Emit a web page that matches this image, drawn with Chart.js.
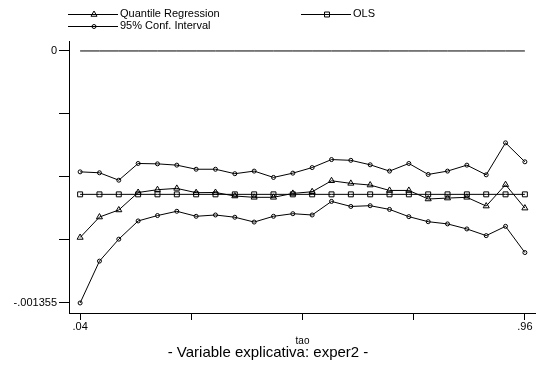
<!DOCTYPE html>
<html>
<head>
<meta charset="utf-8">
<script src="https://cdn.jsdelivr.net/npm/chart.js@4/dist/chart.umd.min.js"></script>
<style>
    body { margin: 0; background: #fff; }
    #caja { width: 536px; height: 367px; }
</style>
</head>
<body>
<div id="caja"><canvas id="grafica"></canvas></div>
<script>
/* datos: cuantiles (tao) y coeficientes de exper2 */
let taos = [0.04, 0.08, 0.12, 0.16, 0.20, 0.24, 0.28, 0.32, 0.36, 0.40, 0.44, 0.48,
            0.52, 0.56, 0.60, 0.64, 0.68, 0.72, 0.76, 0.80, 0.84, 0.88, 0.92, 0.96];

let regCuantil = [-0.001003, -0.000893, -0.000855, -0.000761, -0.000746, -0.000739,
                  -0.000762, -0.000761, -0.000780, -0.000787, -0.000787, -0.000766,
                  -0.000757, -0.000698, -0.000712, -0.000721, -0.000750, -0.000750,
                  -0.000796, -0.000791, -0.000787, -0.000834, -0.000719, -0.000845];

let icSuperior = [-0.000650, -0.000655, -0.000695, -0.000605, -0.000607, -0.000614,
                  -0.000636, -0.000636, -0.000660, -0.000646, -0.000680, -0.000657,
                  -0.000627, -0.000584, -0.000588, -0.000612, -0.000646, -0.000605,
                  -0.000664, -0.000646, -0.000614, -0.000666, -0.000494, -0.000596];

let icInferior = [-0.001355, -0.001130, -0.001012, -0.000914, -0.000885, -0.000862,
                  -0.000889, -0.000882, -0.000894, -0.000920, -0.000889, -0.000875,
                  -0.000882, -0.000809, -0.000836, -0.000832, -0.000852, -0.000891,
                  -0.000918, -0.000930, -0.000957, -0.000993, -0.000943, -0.001084];

let mco = [-0.000771, -0.000771, -0.000771, -0.000771, -0.000771, -0.000771,
           -0.000771, -0.000771, -0.000771, -0.000771, -0.000771, -0.000771,
           -0.000771, -0.000771, -0.000771, -0.000771, -0.000771, -0.000771,
           -0.000771, -0.000771, -0.000771, -0.000771, -0.000771, -0.000771];

let lineaCero = [0, 0, 0, 0, 0, 0, 0, 0, 0, 0, 0, 0,
                 0, 0, 0, 0, 0, 0, 0, 0, 0, 0, 0, 0];

let ticksX = [0.04, 0.27, 0.50, 0.73, 0.96];
let etiquetasX = ['.04', '', '', '', '.96'];
let ticksY = [0, -0.00033875, -0.0006775, -0.00101625, -0.001355];
let etiquetasY = ['0', '', '', '', '-.001355'];

function puntos(valores) {
    return taos.map((t, i) => ({ x: t, y: valores[i] }));
}

function serie(nombre, valores, estilo, radio) {
    return {
        label: nombre,
        data: puntos(valores),
        borderColor: '#000',
        backgroundColor: 'rgba(0,0,0,0)',
        borderWidth: 1,
        pointStyle: estilo,
        pointRadius: radio,
        pointBorderWidth: 1,
        pointBorderColor: '#000',
        pointBackgroundColor: 'rgba(0,0,0,0)',
        tension: 0,
        fill: false
    };
}

/* leyenda dibujada a mano, como en el original */
let leyendaStata = {
    id: 'leyendaStata',
    afterDraw(chart) {
        let ctx = chart.ctx;
        let items = [
            { texto: 'Quantile Regression', estilo: 'triangle', radio: 3.5, x: 68, y: 14 },
            { texto: 'OLS', estilo: 'rect', radio: 3.5, x: 301, y: 14 },
            { texto: '95% Conf. Interval', estilo: 'circle', radio: 2, x: 68, y: 26 }
        ];
        ctx.save();
        ctx.strokeStyle = '#000';
        ctx.fillStyle = '#000';
        ctx.lineWidth = 1;
        ctx.font = '11px "Liberation Sans", Arial, sans-serif';
        ctx.textBaseline = 'middle';
        items.forEach(it => {
            ctx.beginPath();
            ctx.moveTo(it.x, it.y + 0.5);
            ctx.lineTo(it.x + 50, it.y + 0.5);
            ctx.stroke();
            ctx.fillStyle = 'rgba(0,0,0,0)';
            Chart.helpers.drawPoint(ctx, { pointStyle: it.estilo, radius: it.radio, borderWidth: 1 }, it.x + 26, it.y + 0.5);
            ctx.fillStyle = '#000';
            ctx.fillText(it.texto, it.x + 52, it.y);
        });
        ctx.restore();
    }
};

let ctxGrafica = document.getElementById('grafica');

let miGrafica = new Chart(ctxGrafica, {
    type: 'line',
    data: {
        datasets: [
            serie('cero', lineaCero, 'circle', 0),
            serie('95% Conf. Interval', icSuperior, 'circle', 2),
            serie('95% Conf. Interval (inf)', icInferior, 'circle', 2),
            serie('Quantile Regression', regCuantil, 'triangle', 3.5),
            serie('OLS', mco, 'rect', 3.5)
        ]
    },
    options: {
        responsive: true,
        maintainAspectRatio: false,
        animation: false,
        layout: {
            autoPadding: false,
            padding: { top: 41, right: 0, left: 0, bottom: 0 }
        },
        scales: {
            x: {
                type: 'linear',
                min: 0.017,
                max: 0.983,
                afterBuildTicks: s => { s.ticks = ticksX.map(v => ({ value: v })); },
                afterFit: s => { s.height = 31; s.paddingLeft = 0; s.paddingRight = 0; },
                ticks: {
                    color: '#000',
                    padding: 0,
                    maxRotation: 0,
                    font: { family: '"Liberation Sans", Arial', size: 11 },
                    callback: (v, i) => etiquetasX[i]
                },
                grid: { display: true, drawOnChartArea: false, tickLength: 7, color: '#000' },
                border: { display: true, color: '#000', width: 1 },
                title: {
                    display: true,
                    text: 'tao',
                    color: '#000',
                    padding: { top: 0, bottom: -3 },
                    font: { family: '"Liberation Sans", Arial', size: 10 }
                }
            },
            y: {
                min: -0.001409,
                max: 0.0000536,
                afterBuildTicks: s => { s.ticks = ticksY.map(v => ({ value: v })); },
                afterFit: s => { s.width = 69; },
                ticks: {
                    color: '#000',
                    padding: 2,
                    font: { family: '"Liberation Sans", Arial', size: 11 },
                    callback: (v, i) => etiquetasY[i]
                },
                grid: { display: true, drawOnChartArea: false, tickLength: 10, color: '#000' },
                border: { display: true, color: '#000', width: 1 }
            }
        },
        plugins: {
            legend: false,
            tooltip: { enabled: false },
            title: {
                display: true,
                position: 'bottom',
                text: '- Variable explicativa: exper2 -',
                color: '#000',
                font: { family: '"Liberation Sans", Arial', size: 15, weight: 'normal' },
                padding: { top: 0, bottom: 5 }
            }
        }
    },
    plugins: [leyendaStata]
});
</script>
</body>
</html>
